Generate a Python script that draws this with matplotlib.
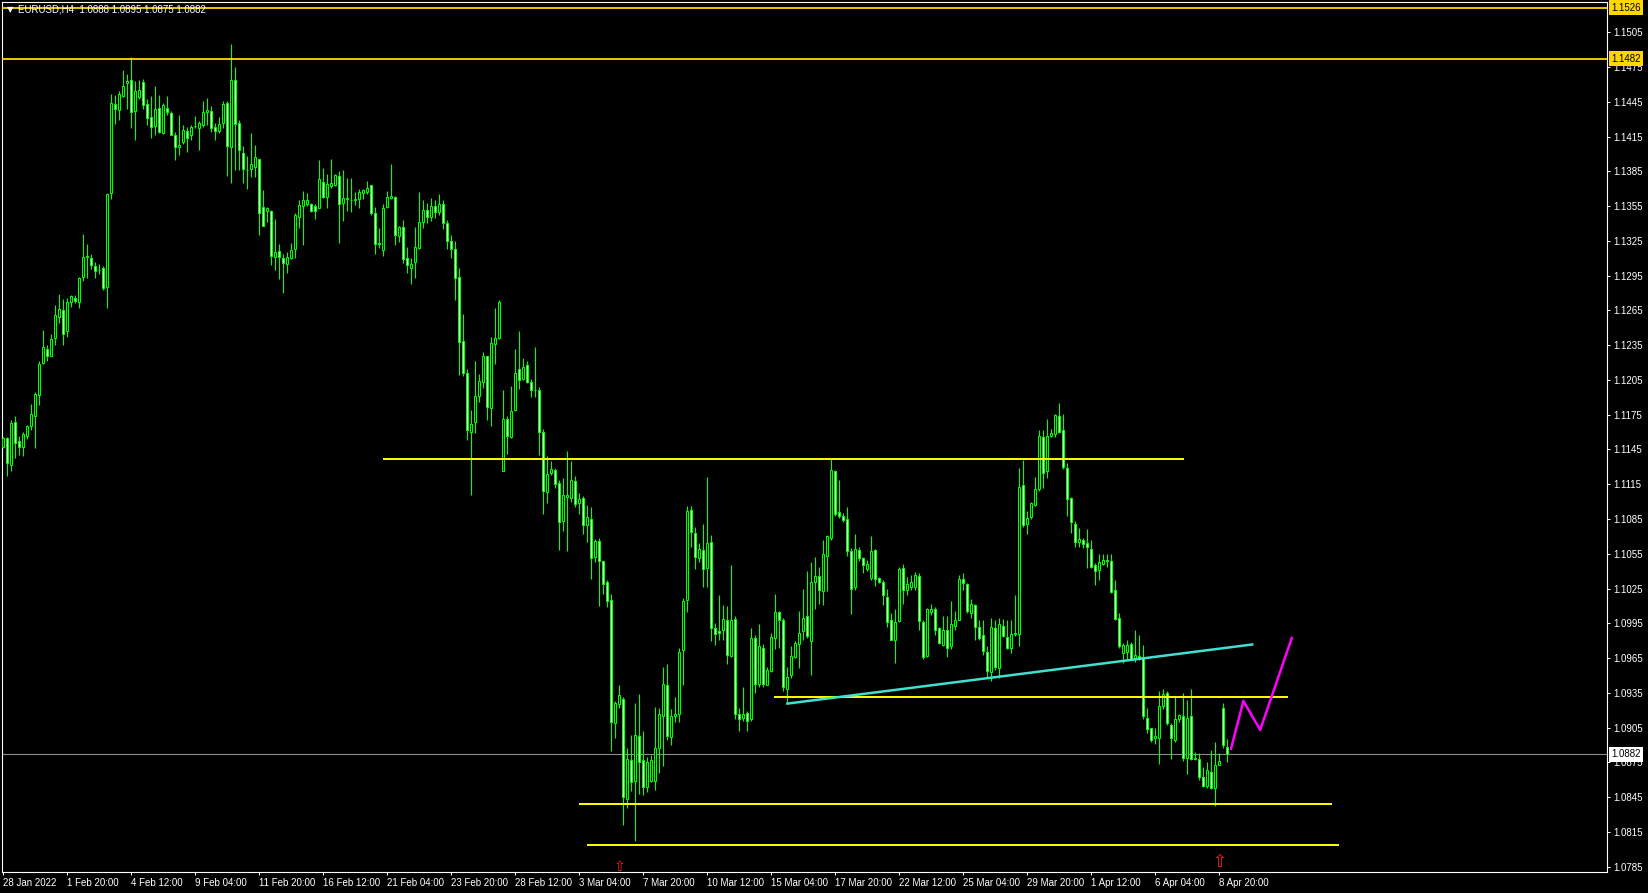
import numpy as np
import matplotlib
matplotlib.use("Agg")
import matplotlib.pyplot as plt
from matplotlib.transforms import blended_transform_factory

# EURUSD H4 candles, 28 Jan 2022 04:00 .. 11 Apr 2022 04:00
opens = [
    1.1147, 1.1155, 1.1132, 1.1169, 1.1152, 1.1147, 1.1157, 1.1165, 1.1174, 1.1192,
    1.1220, 1.1232, 1.1226, 1.1241, 1.1259, 1.1265, 1.1247, 1.1272, 1.1276, 1.1272,
    1.1294, 1.1311, 1.1310, 1.1303, 1.1300, 1.1302, 1.1285, 1.1366, 1.1443, 1.1438,
    1.1450, 1.1461, 1.1464, 1.1437, 1.1449, 1.1462, 1.1443, 1.1432, 1.1424, 1.1440,
    1.1418, 1.1440, 1.1435, 1.1416, 1.1406, 1.1410, 1.1420, 1.1416, 1.1424, 1.1422,
    1.1425, 1.1436, 1.1437, 1.1423, 1.1420, 1.1427, 1.1444, 1.1406, 1.1464, 1.1427,
    1.1401, 1.1386, 1.1387, 1.1389, 1.1396, 1.1354, 1.1351, 1.1351, 1.1311, 1.1316,
    1.1310, 1.1305, 1.1310, 1.1318, 1.1346, 1.1355, 1.1357, 1.1357, 1.1355, 1.1353,
    1.1376, 1.1363, 1.1372, 1.1373, 1.1381, 1.1358, 1.1361, 1.1360, 1.1360, 1.1361,
    1.1366, 1.1367, 1.1373, 1.1349, 1.1323, 1.1317, 1.1354, 1.1362, 1.1363, 1.1329,
    1.1337, 1.1310, 1.1302, 1.1307, 1.1319, 1.1341, 1.1352, 1.1346, 1.1355, 1.1350,
    1.1357, 1.1340, 1.1325, 1.1318, 1.1294, 1.1239, 1.1211, 1.1160, 1.1169, 1.1191,
    1.1203, 1.1226, 1.1181, 1.1236, 1.1241, 1.1126, 1.1171, 1.1156, 1.1179, 1.1214,
    1.1206, 1.1218, 1.1203, 1.1196, 1.1196, 1.1160, 1.1108, 1.1125, 1.1127, 1.1116,
    1.1083, 1.1104, 1.1103, 1.1118, 1.1099, 1.1103, 1.1080, 1.1085, 1.1052, 1.1066,
    1.1049, 1.1031, 1.1015, 1.0909, 1.0925, 1.0930, 1.0843, 1.0877, 1.0859, 1.0898,
    1.0877, 1.0854, 1.0859, 1.0859, 1.0887, 1.0915, 1.0942, 1.0897, 1.0915, 1.0917,
    1.0972, 1.1015, 1.1093, 1.1073, 1.1051, 1.1058, 1.1043, 1.1065, 1.0991, 1.0988,
    1.0989, 1.0998, 1.0967, 1.0999, 1.0917, 1.0913, 1.0918, 1.0912, 1.0982, 1.0943,
    1.0974, 1.0942, 1.0954, 1.0982, 1.1005, 1.0998, 1.0938, 1.0950, 1.0966, 1.0977,
    1.0988, 1.1001, 1.0980, 1.1031, 1.1036, 1.1023, 1.1053, 1.1069, 1.1126, 1.1091,
    1.1088, 1.1085, 1.1057, 1.1026, 1.1058, 1.1051, 1.1042, 1.1034, 1.1058, 1.1034,
    1.1031, 1.1018, 1.0998, 1.0981, 1.0997, 1.1043, 1.1024, 1.1026, 1.1026, 1.1036,
    1.0996, 1.0967, 1.1005, 1.1007, 1.0991, 1.0976, 1.0989, 1.0975, 1.0993, 1.0998,
    1.1033, 1.1029, 1.1004, 1.1011, 1.0992, 1.0985, 1.0970, 1.0953, 1.0991, 1.0956,
    1.0993, 1.0983, 1.0974, 1.0986, 1.0986, 1.1114, 1.1081, 1.1087, 1.1097, 1.1111,
    1.1156, 1.1126, 1.1157, 1.1158, 1.1174, 1.1162, 1.1129, 1.1103, 1.1081, 1.1065,
    1.1067, 1.1064, 1.1059, 1.1045, 1.1041, 1.1046, 1.1050, 1.1049, 1.1024, 1.1000,
    1.0969, 1.0970, 1.0977, 1.0965, 1.0967, 1.0966, 1.0913, 1.0905, 1.0896, 1.0896,
    1.0924, 1.0935, 1.0907, 1.0894, 1.0912, 1.0915, 1.0879, 1.0915, 1.0878, 1.0878,
    1.0862, 1.0855, 1.0867, 1.0853, 1.0873, 1.0922, 1.0888,
]
highs = [
    1.1156, 1.1156, 1.1170, 1.1174, 1.1157, 1.1160, 1.1166, 1.1184, 1.1195, 1.1221,
    1.1248, 1.1235, 1.1245, 1.1270, 1.1279, 1.1275, 1.1276, 1.1278, 1.1278, 1.1294,
    1.1331, 1.1322, 1.1314, 1.1307, 1.1305, 1.1303, 1.1366, 1.1452, 1.1451, 1.1454,
    1.1472, 1.1469, 1.1484, 1.1463, 1.1464, 1.1465, 1.1447, 1.1450, 1.1459, 1.1451,
    1.1444, 1.1450, 1.1437, 1.1419, 1.1434, 1.1425, 1.1423, 1.1425, 1.1433, 1.1428,
    1.1446, 1.1448, 1.1441, 1.1427, 1.1432, 1.1446, 1.1446, 1.1495, 1.1475, 1.1429,
    1.1407, 1.1398, 1.1418, 1.1408, 1.1396, 1.1369, 1.1354, 1.1352, 1.1344, 1.1322,
    1.1314, 1.1315, 1.1323, 1.1349, 1.1360, 1.1368, 1.1366, 1.1358, 1.1357, 1.1395,
    1.1388, 1.1383, 1.1396, 1.1383, 1.1385, 1.1386, 1.1379, 1.1379, 1.1367, 1.1370,
    1.1370, 1.1377, 1.1373, 1.1354, 1.1336, 1.1357, 1.1368, 1.1391, 1.1364, 1.1338,
    1.1343, 1.1320, 1.1310, 1.1337, 1.1367, 1.1360, 1.1358, 1.1362, 1.1360, 1.1365,
    1.1360, 1.1343, 1.1330, 1.1325, 1.1302, 1.1262, 1.1214, 1.1179, 1.1221, 1.1210,
    1.1229, 1.1226, 1.1242, 1.1267, 1.1274, 1.1196, 1.1174, 1.1200, 1.1232, 1.1247,
    1.1224, 1.1221, 1.1206, 1.1233, 1.1199, 1.1163, 1.1139, 1.1135, 1.1129, 1.1119,
    1.1120, 1.1144, 1.1135, 1.1122, 1.1107, 1.1105, 1.1097, 1.1095, 1.1068, 1.1069,
    1.1049, 1.1032, 1.1020, 1.0928, 1.0942, 1.0931, 1.0887, 1.0899, 1.0926, 1.0934,
    1.0902, 1.0880, 1.0881, 1.0923, 1.0922, 1.0957, 1.0960, 1.0921, 1.0931, 1.0974,
    1.1017, 1.1096, 1.1096, 1.1078, 1.1064, 1.1081, 1.1121, 1.1071, 1.0995, 1.1019,
    1.1011, 1.1010, 1.1045, 1.1001, 1.0922, 1.0940, 1.0919, 1.0991, 1.0985, 1.0994,
    1.0977, 1.0957, 1.0987, 1.1020, 1.1006, 1.1000, 1.0957, 1.0975, 1.0980, 1.1006,
    1.1025, 1.1040, 1.1048, 1.1052, 1.1044, 1.1067, 1.1071, 1.1138, 1.1127, 1.1119,
    1.1090, 1.1095, 1.1060, 1.1072, 1.1061, 1.1052, 1.1050, 1.1070, 1.1059, 1.1035,
    1.1032, 1.1025, 1.1004, 1.1007, 1.1044, 1.1046, 1.1035, 1.1037, 1.1039, 1.1038,
    1.0998, 1.1008, 1.1012, 1.1009, 1.0992, 1.1001, 1.1001, 1.1014, 1.1006, 1.1037,
    1.1038, 1.1030, 1.1016, 1.1012, 1.0998, 1.0998, 1.0975, 1.1000, 1.0998, 1.1000,
    1.0999, 1.0998, 1.0998, 1.1019, 1.1129, 1.1136, 1.1092, 1.1100, 1.1121, 1.1162,
    1.1162, 1.1171, 1.1163, 1.1176, 1.1185, 1.1176, 1.1133, 1.1104, 1.1083, 1.1077,
    1.1069, 1.1076, 1.1067, 1.1047, 1.1055, 1.1055, 1.1055, 1.1055, 1.1032, 1.1004,
    1.0978, 1.0981, 1.0979, 1.0989, 1.0985, 1.0976, 1.0922, 1.0905, 1.0905, 1.0937,
    1.0938, 1.0937, 1.0909, 1.0932, 1.0917, 1.0935, 1.0929, 1.0938, 1.0884, 1.0883,
    1.0871, 1.0875, 1.0886, 1.0893, 1.0883, 1.0926, 1.0895,
]
lows = [
    1.1146, 1.1122, 1.1126, 1.1138, 1.1140, 1.1139, 1.1154, 1.1162, 1.1146, 1.1183,
    1.1219, 1.1221, 1.1226, 1.1235, 1.1254, 1.1235, 1.1242, 1.1268, 1.1271, 1.1267,
    1.1290, 1.1293, 1.1301, 1.1293, 1.1296, 1.1283, 1.1267, 1.1361, 1.1426, 1.1429,
    1.1449, 1.1439, 1.1422, 1.1412, 1.1447, 1.1439, 1.1425, 1.1414, 1.1416, 1.1418,
    1.1417, 1.1434, 1.1416, 1.1395, 1.1399, 1.1409, 1.1402, 1.1412, 1.1422, 1.1403,
    1.1423, 1.1425, 1.1419, 1.1412, 1.1418, 1.1422, 1.1381, 1.1375, 1.1386, 1.1386,
    1.1375, 1.1370, 1.1380, 1.1380, 1.1330, 1.1338, 1.1341, 1.1304, 1.1300, 1.1292,
    1.1280, 1.1297, 1.1309, 1.1310, 1.1336, 1.1321, 1.1355, 1.1350, 1.1344, 1.1353,
    1.1362, 1.1353, 1.1371, 1.1372, 1.1323, 1.1342, 1.1351, 1.1350, 1.1356, 1.1353,
    1.1361, 1.1365, 1.1347, 1.1314, 1.1319, 1.1312, 1.1353, 1.1361, 1.1321, 1.1324,
    1.1306, 1.1297, 1.1288, 1.1293, 1.1318, 1.1336, 1.1340, 1.1342, 1.1345, 1.1347,
    1.1335, 1.1318, 1.1310, 1.1274, 1.1209, 1.1208, 1.1153, 1.1106, 1.1159, 1.1186,
    1.1198, 1.1170, 1.1165, 1.1219, 1.1240, 1.1126, 1.1141, 1.1155, 1.1178, 1.1197,
    1.1205, 1.1202, 1.1190, 1.1190, 1.1140, 1.1089, 1.1099, 1.1123, 1.1112, 1.1058,
    1.1075, 1.1057, 1.1100, 1.1095, 1.1089, 1.1072, 1.1065, 1.1033, 1.1048, 1.1010,
    1.1020, 1.1009, 1.0885, 1.0896, 1.0922, 1.0821, 1.0836, 1.0850, 1.0807, 1.0848,
    1.0847, 1.0849, 1.0858, 1.0851, 1.0866, 1.0872, 1.0894, 1.0890, 1.0910, 1.0910,
    1.0942, 1.1005, 1.1061, 1.1042, 1.1048, 1.1026, 1.1026, 1.0980, 1.0976, 1.0981,
    1.0981, 1.0960, 1.0966, 1.0912, 1.0902, 1.0911, 1.0902, 1.0911, 1.0935, 1.0940,
    1.0940, 1.0942, 1.0953, 1.0973, 1.0974, 1.0937, 1.0926, 1.0948, 1.0965, 1.0956,
    1.0981, 1.0982, 1.0950, 1.1007, 1.1012, 1.1011, 1.1023, 1.1067, 1.1088, 1.1086,
    1.1082, 1.1053, 1.1003, 1.1024, 1.1049, 1.1038, 1.1040, 1.1032, 1.1027, 1.1030,
    1.1011, 1.0992, 1.0981, 1.0961, 1.0996, 1.1012, 1.1019, 1.1024, 1.1024, 1.0989,
    1.0964, 1.0966, 1.1002, 1.0985, 1.0977, 1.0975, 1.0966, 1.0973, 1.0989, 1.0998,
    1.1024, 1.1004, 1.1000, 1.0981, 1.0981, 1.0968, 1.0948, 1.0945, 1.0955, 1.0948,
    1.0983, 1.0973, 1.0969, 1.0984, 1.0975, 1.1078, 1.1072, 1.1085, 1.1096, 1.1109,
    1.1112, 1.1120, 1.1156, 1.1156, 1.1159, 1.1128, 1.1088, 1.1073, 1.1061, 1.1061,
    1.1060, 1.1043, 1.1043, 1.1028, 1.1032, 1.1045, 1.1044, 1.1021, 1.0998, 1.0974,
    1.0961, 1.0963, 1.0963, 1.0962, 1.0963, 1.0912, 1.0900, 1.0893, 1.0891, 1.0874,
    1.0921, 1.0907, 1.0878, 1.0893, 1.0910, 1.0876, 1.0865, 1.0877, 1.0877, 1.0860,
    1.0854, 1.0853, 1.0852, 1.0837, 1.0873, 1.0887, 1.0875,
]
closes = [
    1.1155, 1.1133, 1.1168, 1.1151, 1.1147, 1.1158, 1.1165, 1.1176, 1.1193, 1.1219,
    1.1233, 1.1226, 1.1240, 1.1261, 1.1266, 1.1245, 1.1272, 1.1277, 1.1273, 1.1293,
    1.1311, 1.1312, 1.1304, 1.1299, 1.1300, 1.1284, 1.1365, 1.1444, 1.1439, 1.1452,
    1.1459, 1.1463, 1.1436, 1.1454, 1.1455, 1.1442, 1.1431, 1.1423, 1.1439, 1.1419,
    1.1442, 1.1436, 1.1416, 1.1406, 1.1408, 1.1421, 1.1414, 1.1423, 1.1424, 1.1427,
    1.1436, 1.1438, 1.1422, 1.1420, 1.1426, 1.1443, 1.1407, 1.1464, 1.1426, 1.1403,
    1.1387, 1.1386, 1.1391, 1.1397, 1.1349, 1.1338, 1.1353, 1.1312, 1.1315, 1.1311,
    1.1306, 1.1311, 1.1317, 1.1347, 1.1356, 1.1360, 1.1360, 1.1351, 1.1351, 1.1378,
    1.1363, 1.1374, 1.1375, 1.1382, 1.1357, 1.1362, 1.1362, 1.1360, 1.1361, 1.1367,
    1.1369, 1.1371, 1.1349, 1.1322, 1.1322, 1.1353, 1.1363, 1.1364, 1.1330, 1.1337,
    1.1309, 1.1304, 1.1305, 1.1320, 1.1341, 1.1352, 1.1346, 1.1355, 1.1350, 1.1357,
    1.1340, 1.1325, 1.1318, 1.1293, 1.1238, 1.1211, 1.1162, 1.1167, 1.1191, 1.1204,
    1.1226, 1.1182, 1.1237, 1.1241, 1.1272, 1.1171, 1.1157, 1.1178, 1.1211, 1.1205,
    1.1216, 1.1203, 1.1196, 1.1196, 1.1160, 1.1109, 1.1124, 1.1128, 1.1115, 1.1082,
    1.1106, 1.1106, 1.1119, 1.1098, 1.1102, 1.1080, 1.1087, 1.1051, 1.1066, 1.1049,
    1.1029, 1.1014, 1.0910, 1.0926, 1.0933, 1.0845, 1.0878, 1.0858, 1.0899, 1.0875,
    1.0854, 1.0875, 1.0877, 1.0887, 1.0917, 1.0943, 1.0898, 1.0915, 1.0917, 1.0970,
    1.1014, 1.1092, 1.1074, 1.1052, 1.1059, 1.1042, 1.1064, 1.0991, 1.0986, 1.0987,
    1.0999, 1.0968, 1.0998, 1.0917, 1.0912, 1.0917, 1.0911, 1.0982, 1.0943, 1.0975,
    1.0943, 1.0955, 1.0983, 1.1005, 1.0998, 1.0940, 1.0949, 1.0967, 1.0978, 1.0987,
    1.1000, 1.0984, 1.1031, 1.1036, 1.1024, 1.1055, 1.1070, 1.1127, 1.1089, 1.1088,
    1.1084, 1.1057, 1.1025, 1.1059, 1.1051, 1.1045, 1.1046, 1.1057, 1.1033, 1.1031,
    1.1019, 1.0996, 1.0981, 1.0996, 1.1042, 1.1024, 1.1029, 1.1031, 1.1037, 1.0997,
    1.0966, 1.1007, 1.1007, 1.0989, 1.0978, 1.0989, 1.0974, 1.0994, 1.0998, 1.1033,
    1.1030, 1.1006, 1.1012, 1.0992, 1.0982, 1.0971, 1.0954, 1.0992, 1.0957, 1.0994,
    1.0984, 1.0974, 1.0986, 1.0987, 1.1113, 1.1080, 1.1086, 1.1099, 1.1111, 1.1157,
    1.1125, 1.1157, 1.1159, 1.1175, 1.1160, 1.1130, 1.1102, 1.1082, 1.1065, 1.1068,
    1.1063, 1.1061, 1.1044, 1.1040, 1.1048, 1.1050, 1.1049, 1.1022, 1.0999, 1.0975,
    1.0976, 1.0976, 1.0964, 1.0968, 1.0964, 1.0915, 1.0904, 1.0894, 1.0898, 1.0924,
    1.0934, 1.0909, 1.0896, 1.0912, 1.0916, 1.0879, 1.0913, 1.0878, 1.0879, 1.0862,
    1.0855, 1.0868, 1.0853, 1.0873, 1.0876, 1.0890, 1.0882,
]

# time axis labels, one every 16 bars
date_labels = ["28 Jan 2022", "1 Feb 20:00", "4 Feb 12:00", "9 Feb 04:00", "11 Feb 20:00",
               "16 Feb 12:00", "21 Feb 04:00", "23 Feb 20:00", "28 Feb 12:00", "3 Mar 04:00",
               "7 Mar 20:00", "10 Mar 12:00", "15 Mar 04:00", "17 Mar 20:00", "22 Mar 12:00",
               "25 Mar 04:00", "29 Mar 20:00", "1 Apr 12:00", "6 Apr 04:00", "8 Apr 20:00"]
label_step = 16

price_ticks = [1.1505, 1.1475, 1.1445, 1.1415, 1.1385, 1.1355, 1.1325, 1.1295, 1.1265,
               1.1235, 1.1205, 1.1175, 1.1145, 1.1115, 1.1085, 1.1055, 1.1025, 1.0995,
               1.0965, 1.0935, 1.0905, 1.0875, 1.0845, 1.0815, 1.0785]

# drawn objects
full_lines = [1.1526, 1.1482]
last_price = 1.0882
# (start bar, end bar, price)
levels = [(95, 295.2, 1.1137), (192.7, 321.1, 1.0931), (143.9, 332.1, 1.0839), (145.9, 334.0, 1.0804)]
trend_x = [196, 312.2]
trend_y = [1.09257, 1.09767]
path_x = [306.9, 310.0, 314.2, 322.1]
path_y = [1.08866, 1.09280, 1.09030, 1.09823]
arrow_bars = [154, 304]
arrow_prices = [1.07847, 1.07894]

plt.rcParams['font.family'] = ['Liberation Sans', 'DejaVu Sans']
GREEN = '#00ff00'
GOLD = '#ffd700'

fig = plt.figure(figsize=(16.48, 8.93), dpi=100, facecolor='black')
ax = fig.add_axes([2 / 1648, 21 / 893, 1605 / 1648, 870 / 893], facecolor='black')
ax.set_xlim(-0.325, 400.9)
ax.set_ylim(1.07804, 1.15311)

o = np.array(opens)
h = np.array(highs)
l = np.array(lows)
c = np.array(closes)
x = np.arange(len(o))
up = c >= o

ax.vlines(x, l, h, color=GREEN, lw=0.8, zorder=2)
body = np.maximum(np.abs(c - o), 0.00002)
ax.bar(x, body, bottom=np.minimum(o, c), width=0.55,
       color=np.where(up, 'black', 'white'), edgecolor=GREEN, linewidth=0.75, zorder=3)

for p in full_lines:
    ax.axhline(p, color=GOLD, lw=1.3, zorder=4)
ax.axhline(last_price, color='#8c8c8c', lw=0.8, zorder=1)
for x0, x1, p in levels:
    ax.plot([x0, x1], [p, p], color='#ffff00', lw=1.4, zorder=4, solid_capstyle='butt')
ax.plot(trend_x, trend_y, color='#40e0d0', lw=1.8, zorder=4)
ax.plot(path_x, path_y, color='#ff00ff', lw=1.8, zorder=4)
for bx, py, fs in zip(arrow_bars, arrow_prices, [10, 12]):
    ax.text(bx, py, '\u21e7', color='#ff1a1a', fontsize=fs, ha='center', va='center',
            family='DejaVu Sans', zorder=5)

# axes styling
for s in ax.spines.values():
    s.set_color('white')
    s.set_linewidth(0.8)
ax.yaxis.tick_right()
ax.set_yticks(price_ticks)
ax.set_yticklabels([f'{p:.4f}' for p in price_ticks])
ax.tick_params(axis='y', colors='white', direction='out', length=2.2, width=0.7, pad=2, labelsize=7)
ax.set_xticks(np.arange(len(date_labels)) * label_step)
ax.set_xticklabels(date_labels)
for t in ax.get_xticklabels():
    t.set_ha('left')
ax.tick_params(axis='x', colors='white', direction='out', length=2.2, width=0.7, pad=2, labelsize=7)

# price tags on the right scale
trans = blended_transform_factory(fig.transFigure, ax.transData)
for p in full_lines:
    ax.text(1611 / 1648, p, f'{p:.4f}', transform=trans, color='black', fontsize=7,
            va='center', ha='left', clip_on=False, zorder=10,
            bbox=dict(boxstyle='square,pad=0.25', fc=GOLD, ec='none'))
ax.text(1611 / 1648, last_price, f'{last_price:.4f}', transform=trans, color='black', fontsize=7,
        va='center', ha='left', clip_on=False, zorder=10,
        bbox=dict(boxstyle='square,pad=0.25', fc='white', ec='none'))

fig.text(7 / 1648, 1 - 10 / 893, '\u25bc', family='DejaVu Sans', fontsize=6, color='white', va='center')
fig.text(18 / 1648, 1 - 10 / 893, 'EURUSD,H4  1.0888 1.0895 1.0875 1.0882', color='white',
         fontsize=7, va='center')

fig.savefig('out.png', dpi=100, facecolor='black')
